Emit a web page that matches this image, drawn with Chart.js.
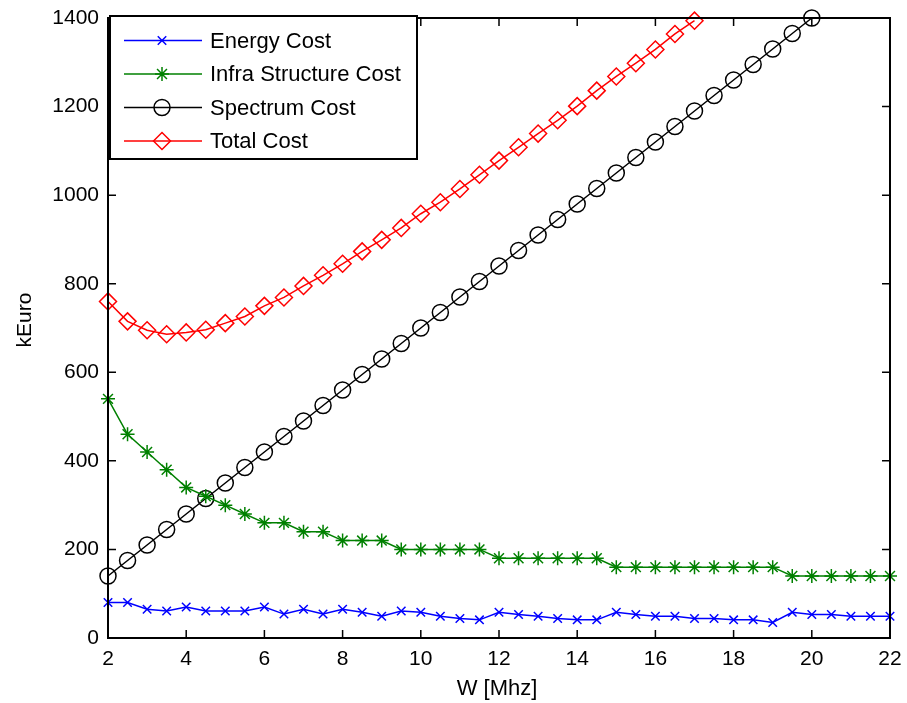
<!DOCTYPE html>
<html><head><meta charset="utf-8">
<script src="https://cdn.jsdelivr.net/npm/chart.js@4"></script>
<style>html,body{margin:0;padding:0;background:#fff}#wrap{width:907px;height:703px;position:relative}</style>
</head><body><div id="wrap"><canvas id="c" width="907" height="703"></canvas></div>
<script>
// ---- data ----
const bandwidth = [2,2.5,3,3.5,4,4.5,5,5.5,6,6.5,7,7.5,8,8.5,9,9.5,10,10.5,11,11.5,12,12.5,13,13.5,14,14.5,15,15.5,16,16.5,17,17.5,18,18.5,19,19.5,20,20.5,21,21.5,22];
const energyCost = [80,80,65,61,70,61,61,61,70,54,65,54,65,58,49,61,58,49,44,41,58,53,49,44,41,41,58,53,49,49,44,44,41,41,35,58,53,53,49,49,49];
const infraCost = [540,460,420,380,340,320,300,280,260,260,240,240,220,220,220,200,200,200,200,200,180,180,180,180,180,180,160,160,160,160,160,160,160,160,160,140,140,140,140,140,140];
const spectrumCost = [140,175,210,245,280,315,350,385,420,455,490,525,560,595,630,665,700,735,770,805,840,875,910,945,980,1015,1050,1085,1120,1155,1190,1225,1260,1295,1330,1365,1400];
const totalCost = [760,715,695,686,690,696,711,726,750,769,795,819,845,873,899,926,958,984,1014,1046,1078,1108,1139,1169,1201,1236,1268,1298,1329,1364,1394];
const seriesNames = ['Energy Cost','Infra Structure Cost','Spectrum Cost','Total Cost'];
const xTicks = [2,4,6,8,10,12,14,16,18,20,22];
const yTicks = [0,200,400,600,800,1000,1200,1400];
const xTitle = 'W [Mhz]';
const yTitle = 'kEuro';

const FONT = "'Liberation Sans', Arial, sans-serif";
const pts = (vals) => vals.map((v, i) => ({x: bandwidth[i], y: v}));

const styles = [
  {color:'#0000ff', pointStyle:'crossRot', radius:6},
  {color:'#008000', pointStyle:'star', radius:7},
  {color:'#000000', pointStyle:'circle', radius:8},
  {color:'#ff0000', pointStyle:'rectRot', radius:8.5}
];
const seriesData = [energyCost, infraCost, spectrumCost, totalCost];

const datasets = seriesData.map((vals, i) => ({
  label: seriesNames[i],
  data: pts(vals),
  borderColor: styles[i].color,
  backgroundColor: 'rgba(0,0,0,0)',
  borderWidth: 1.5,
  pointStyle: styles[i].pointStyle,
  pointRadius: styles[i].radius,
  pointBorderWidth: 1.5,
  pointBorderColor: styles[i].color,
  pointBackgroundColor: 'rgba(0,0,0,0)',
  tension: 0,
  clip: false,
  fill: false
}));

function drawMarker(ctx, style, radius, x, y, color) {
  ctx.save();
  ctx.strokeStyle = color;
  ctx.fillStyle = 'rgba(0,0,0,0)';
  ctx.lineWidth = 1.5;
  Chart.helpers.drawPoint(ctx, {pointStyle: style, radius: radius, borderWidth: 1.5, rotation: 0}, x, y);
  ctx.restore();
}

const framePlugin = {
  id: 'frame',
  afterDraw(chart) {
    const ctx = chart.ctx;
    const a = chart.chartArea;
    const xs = chart.scales.x, ys = chart.scales.y;
    ctx.save();
    ctx.strokeStyle = '#000';
    ctx.lineWidth = 2;
    ctx.strokeRect(a.left, a.top, a.right - a.left, a.bottom - a.top);
    const tl = 8;
    ctx.lineWidth = 1.5;
    ctx.beginPath();
    xTicks.forEach(t => {
      const px = xs.getPixelForValue(t);
      ctx.moveTo(px, a.bottom); ctx.lineTo(px, a.bottom - tl);
      ctx.moveTo(px, a.top); ctx.lineTo(px, a.top + tl);
    });
    yTicks.forEach(t => {
      const py = ys.getPixelForValue(t);
      ctx.moveTo(a.left, py); ctx.lineTo(a.left + tl, py);
      ctx.moveTo(a.right, py); ctx.lineTo(a.right - tl, py);
    });
    ctx.stroke();

    // axis titles
    ctx.fillStyle = '#000';
    ctx.font = '22px ' + FONT;
    ctx.textAlign = 'center';
    ctx.textBaseline = 'middle';
    ctx.fillText(xTitle, (a.left + a.right) / 2 - 2, 689);
    ctx.font = '21px ' + FONT;
    ctx.save();
    ctx.translate(25, 320);
    ctx.rotate(-Math.PI / 2);
    ctx.fillText(yTitle, 0, 0);
    ctx.restore();

    // legend
    const lx = 110, ly = 16, lw = 307, lh = 143;
    ctx.fillStyle = '#fff';
    ctx.fillRect(lx, ly, lw, lh);
    ctx.lineWidth = 2;
    ctx.strokeStyle = '#000';
    ctx.strokeRect(lx, ly, lw, lh);
    ctx.font = '22px ' + FONT;
    ctx.textAlign = 'left';
    ctx.textBaseline = 'middle';
    seriesNames.forEach((name, i) => {
      const y = 40.5 + i * 33.5;
      ctx.strokeStyle = styles[i].color;
      ctx.lineWidth = 1.5;
      ctx.beginPath(); ctx.moveTo(124, y); ctx.lineTo(202, y); ctx.stroke();
      drawMarker(ctx, styles[i].pointStyle, styles[i].radius, 162, y, styles[i].color);
      ctx.fillStyle = '#000';
      ctx.fillText(name, 210, y + 1);
    });
    ctx.restore();
  }
};

new Chart(document.getElementById('c'), {
  type: 'line',
  data: {datasets},
  options: {
    responsive: false,
    animation: false,
    devicePixelRatio: 1,
    layout: {padding: {top: 18, right: 17, left: 0, bottom: 0}},
    plugins: {legend: {display: false}, tooltip: {enabled: false}},
    scales: {
      x: {
        type: 'linear', min: 2, max: 22,
        afterBuildTicks: s => { s.ticks = xTicks.map(v => ({value: v})); },
        ticks: {color: '#000', font: {family: FONT, size: 21}, padding: 9, maxRotation: 0, autoSkip: false,
                callback: v => String(v)},
        grid: {display: false, drawTicks: false},
        border: {display: false},
        afterFit: s => { s.height = 65; s.paddingLeft = 0; s.paddingRight = 0; }
      },
      y: {
        type: 'linear', min: 0, max: 1400,
        afterBuildTicks: s => { s.ticks = yTicks.map(v => ({value: v})); },
        ticks: {color: '#000', font: {family: FONT, size: 21}, padding: 9, callback: v => String(v)},
        grid: {display: false, drawTicks: false},
        border: {display: false},
        afterFit: s => { s.width = 108; s.paddingTop = 0; s.paddingBottom = 0; }
      }
    }
  },
  plugins: [framePlugin]
});
</script>
</body></html>
